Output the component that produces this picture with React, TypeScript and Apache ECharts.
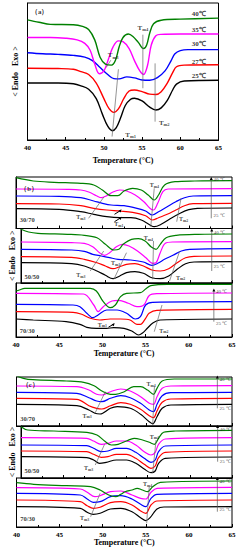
import React, { useEffect, useRef } from 'react';
import * as echarts from 'echarts';

type Pt = [number, number];

// ---------- Panel (a): DSC curves at 25,27,30,35,40 °C ----------
const A25: Pt[] = [[40,55],[44,55],[46,54.3],[47,52.3],[48,49],[49,40],[49.8,25],[50.5,13.3],[51.1,9],[51.6,11.7],[52.2,21.7],[52.8,33.3],[53.5,39.3],[54,40.3],[55,37.7],[56,31.7],[56.8,29],[57.5,31],[58.3,38.3],[59,48.3],[59.5,54],[60.5,57],[65,57.7]];
const A27: Pt[] = [[40,69.3],[44,69],[46,68.3],[47,66],[48,63.3],[49,55],[50,40],[50.7,30],[51.3,26.7],[51.9,30],[52.6,40],[53.3,47.3],[54,48.3],[55,46.7],[56,44.3],[56.8,44],[57.5,46.7],[58.3,55],[59,65],[59.5,70.7],[60.5,72.3],[65,72.7]];
const A30: Pt[] = [[40,84.3],[42,83.3],[44,82.7],[46,81.7],[47.5,80],[48.5,76.7],[49.5,70],[50.5,63.3],[51.3,59.3],[52,59],[53,61],[54,60],[55,58],[56,57.7],[57,60.3],[58,66.7],[58.8,76.7],[59.3,83.3],[60,86.3],[61,87.3],[65,87.3]];
const A35: Pt[] = [[40,99],[43,99],[45,98.3],[46.5,96.7],[47.5,93.3],[48.2,86.7],[48.8,73.3],[49.4,64],[50,66.7],[50.6,78.3],[51.2,90],[51.9,95.7],[52.5,95],[53.3,88.3],[54,76.7],[54.7,66.7],[55.2,63.3],[55.7,71.7],[56.2,91.7],[56.8,100.7],[57.5,102],[60,102.3],[65,102.3]];
const A40: Pt[] = [[40,116],[41.5,113.7],[43,111.7],[46,111.3],[47.2,109.7],[48,106.7],[48.8,96.7],[49.5,80],[50.2,73.3],[51,72.3],[51.5,76.7],[52,90],[52.5,99],[53.2,102.3],[53.8,100],[54.5,94.3],[55.2,88.3],[55.6,91.7],[56,103.3],[56.5,112.3],[57.5,115.7],[60,116.7],[65,117.7]];
const A_GUIDES: Pt[][] = [[[51.07,3.3],[51.9,68.3]],[[56.7,74],[56.7,17.7]],[[55.1,101.7],[55.1,50]],[[50.9,77],[50.3,70]]];
const A_TM: [number, number, string][] = [[53.5,5,'m1'],[57.9,16.7,'m2'],[51.2,81.7,'m3'],[55.1,108,'m4']];
const A_TEMPS: [number, number, string][] = [[62.4,121.7,'40℃'],[62.4,106.7,'35℃'],[62.4,92.7,'30℃'],[62.4,75,'27℃'],[62.4,61.7,'25℃']];

// ---------- Panel (b) ----------
const B1_40: Pt[] = [[40,50.8],[42,47.5],[44.4,46.2],[47.5,45.2],[49,43.5],[50,38.5],[51,32.8],[51.8,32.8],[52.5,37.5],[53.5,40.2],[54.5,38.5],[55.3,33.5],[56,28.5],[56.5,33.5],[57.2,43.5],[58.4,46.8],[60.7,47.5],[65,47.8]];
const B1_35: Pt[] = [[40,39.5],[46,39.2],[47.5,38.5],[48.5,36.2],[49.3,32.8],[49.9,30.8],[50.5,32.8],[51.3,36.8],[52,38.5],[52.8,37.5],[53.8,33.5],[54.8,26.8],[55.5,20.2],[55.9,18.5],[56.4,25.2],[57,36.8],[57.6,39.5],[65,39.8]];
const B1_30: Pt[] = [[40,32.5],[45,32.2],[47.5,30.8],[49,27.5],[50,25.2],[51,23.5],[52.5,22.8],[54,20.2],[55,17.5],[55.8,13.5],[56.5,16.8],[57.5,21.8],[58.5,26.8],[59.5,30.8],[60.5,32.5],[65,32.8]];
const B1_27: Pt[] = [[40,24.8],[45,24.5],[47.5,22.8],[49,20.2],[50.5,18.5],[52,17.5],[53.5,16.2],[55,12.8],[55.8,8.5],[56.5,10.8],[57.5,14.2],[58.5,18.5],[59.5,22.8],[60.5,24.8],[65,25.2]];
const B1_25: Pt[] = [[40,19.8],[45,19.2],[47.5,16.8],[49,14.2],[50.5,11.8],[52,10.8],[53.3,10.8],[54.5,8.5],[55.5,3.5],[56,1.8],[56.8,4.2],[57.8,9.5],[59,15.2],[60,18.8],[61,20.2],[65,20.5]];
const B2_40: Pt[] = [[40,53.7],[40.9,51],[42,49.7],[45.5,48.7],[47.5,47.7],[49,45.3],[50,38.7],[51,33],[51.6,33.7],[52.1,38.7],[53.1,43.7],[53.9,44.3],[54.7,42],[55.4,36.3],[56,33.7],[56.5,38.7],[57.2,45.3],[58.4,47.7],[61,48.7],[65,49]];
const B2_35: Pt[] = [[40,41],[46,40.3],[47.5,39.7],[48.5,36.3],[49.3,30.3],[49.9,27.7],[50.5,30.3],[51.3,36.3],[52,38.7],[52.8,37],[53.8,32],[54.8,25.3],[55.6,19.7],[56,20.3],[56.5,30.3],[57.1,39.7],[58,41],[65,41.3]];
const B2_30: Pt[] = [[40,33.7],[46,33],[47.5,31.7],[48.5,28.7],[49.5,27],[50.5,25.3],[51.5,23.7],[53,23],[54.5,21],[55.5,17.7],[56.2,19.7],[57,23.7],[58,27.7],[59,32],[60,33.7],[65,34.3]];
const B2_27: Pt[] = [[40,26.3],[46,25.7],[47.5,23.7],[49,20.3],[50,17],[50.9,14.3],[51.7,16.3],[52.5,18.7],[53.5,19.3],[54.5,17],[55.5,13],[56.5,12],[57.5,14.3],[58.5,20.3],[59.5,25.3],[60.5,26.7],[65,27]];
const B2_25: Pt[] = [[40,20.3],[46,19.3],[47.5,17],[49,12],[50,7.7],[50.9,4.3],[51.7,7],[52.5,10.3],[53.5,11.3],[54.5,9.7],[55.5,5.3],[56.5,4.3],[57.5,7],[58.5,13.7],[59.5,19.3],[60.5,21],[65,21.3]];
const B3_40: Pt[] = [[40,46],[40.4,47],[41,48.7],[48.6,48.7],[49.3,46],[50.1,35.3],[50.9,29.3],[51.5,32],[52.1,40.3],[52.8,43.7],[54.4,44.3],[55,48],[55.6,51.3],[57.5,52.7],[65,52.7]];
const B3_35: Pt[] = [[40,43.7],[47.8,43],[49,32],[49.5,25.3],[50.1,30.3],[51.1,36],[51.9,36.7],[53,33.7],[54,30.3],[54.8,32],[55.4,41.3],[56.3,43.3],[65,44]];
const B3_30: Pt[] = [[40,32.7],[46.6,32],[47.4,30.3],[48.2,23.7],[48.9,19.3],[49.5,22],[50.5,27],[51.7,27],[52.8,23.7],[53.8,18],[54.4,20.3],[55,32],[55.8,34.7],[65,35.3]];
const B3_27: Pt[] = [[40,25.3],[46.6,24.7],[47.6,22.7],[48.6,18.7],[49.7,17],[50.9,18],[52.1,18],[53.2,17],[54,12.7],[54.4,12.7],[55,18.7],[55.4,23.7],[56.3,26.7],[65,27.7]];
const B3_25: Pt[] = [[40,18],[42,17],[45.8,15.3],[47.4,12.7],[48.2,9.7],[49.3,8.7],[50.5,8.7],[51.3,9.3],[52.5,8.7],[53.4,6],[54.2,2],[54.6,3.7],[55.2,8.7],[55.8,13.7],[56.7,17],[65,18]];

// ---------- Panel (c) ----------
const C1_40: Pt[] = [[40,50.3],[40.8,47.7],[41.9,46.3],[45.8,45],[47.8,43.7],[49,40.3],[49.9,35],[50.9,31.7],[51.5,31.7],[52.5,34.3],[53.6,39.3],[54.4,39.3],[55.2,36],[55.9,31.7],[56.3,37.7],[56.9,45],[58.3,47],[65,47]];
const C1_35: Pt[] = [[40,40],[47,39.3],[48.4,36],[49.3,31.7],[49.9,31],[50.9,34.3],[52.1,37],[53.2,35],[54.4,29.3],[55.4,22.7],[55.9,21.7],[56.3,29.3],[56.9,37.7],[57.9,40],[65,40.3]];
const C1_30: Pt[] = [[40,33.7],[47,32.7],[48.4,28.3],[49.3,25],[49.9,24.3],[50.9,27.7],[52.1,30.3],[53.2,28.3],[54.4,22.7],[55.4,16],[55.9,14.3],[56.3,21.7],[56.9,30.3],[57.9,33.3],[65,33.7]];
const C1_27: Pt[] = [[40,27.7],[47,26.7],[48.4,20.3],[49.3,17.7],[49.9,17],[50.9,20.3],[52.1,23.3],[53.2,21.7],[54.4,16.7],[55.4,10.3],[55.9,8.3],[56.3,15],[56.9,23.7],[57.9,27],[65,27.7]];
const C1_25: Pt[] = [[40,21.7],[47,20.3],[48.4,16],[49.1,12.7],[49.7,12],[50.9,17.7],[51.7,19.3],[53.2,17.7],[54.4,11.7],[55.4,4.3],[55.8,2.3],[56.3,9.3],[56.9,17.7],[57.9,21],[65,21.7]];
const C2_40: Pt[] = [[40,51.3],[40.8,48],[43.9,47],[47.8,45.7],[49,43],[49.9,37],[50.7,33],[51.5,33.7],[52.5,37],[53.4,39.7],[54.4,38],[55.2,35.7],[55.8,33.7],[56.3,39.7],[56.9,45.7],[58.3,47],[65,47.7]];
const C2_35: Pt[] = [[40,40.3],[47.8,39.7],[48.6,37],[49.5,33.7],[50.3,34.7],[51.3,37],[52.5,37],[53.6,33],[54.6,26.3],[55.4,23],[55.9,25.7],[56.3,33.7],[57.1,39],[65,40.3]];
const C2_30: Pt[] = [[40,33],[47.8,32.3],[48.6,29.7],[49.5,26.3],[50.3,27],[51.3,29.7],[52.5,29.7],[53.6,25.7],[54.6,19.7],[55.4,15.7],[55.9,18],[56.3,26.3],[57.1,32],[65,33]];
const C2_27: Pt[] = [[40,27],[47.8,26.3],[48.6,23.7],[49.5,20.7],[50.3,21.3],[51.3,23.7],[52.5,23.7],[53.6,19.7],[54.6,13.7],[55.4,9.7],[55.9,12],[56.3,20.3],[57.1,25.7],[65,27]];
const C2_25: Pt[] = [[40,21.3],[47.8,20.3],[48.6,18],[49.3,14.7],[50.1,15.7],[51.3,18],[52.5,18],[53.6,14.7],[54.6,9],[55.4,5.3],[55.9,7],[56.3,14.7],[57.1,19.7],[65,21]];
const C3_40: Pt[] = [[40,44.3],[42,42.7],[45.8,41.3],[48.6,40.3],[49.7,37],[50.7,32],[51.5,30.3],[52.1,32.7],[52.6,35.3],[53.4,37],[54,38.7],[54.6,37],[55.2,35.3],[55.8,40.3],[56.7,44.7],[65,46]];
const C3_35: Pt[] = [[40,39.3],[47.4,38],[48.2,34.7],[49.1,30.3],[49.7,31.3],[50.9,35.3],[52.1,36],[53.4,32],[54.4,28.7],[55,28],[55.6,34.7],[56.3,38.7],[65,39.7]];
const C3_30: Pt[] = [[40,33.7],[47.4,32],[48.2,28],[48.9,24.7],[49.7,25.3],[50.9,30.3],[52.1,31.3],[53.4,28],[54.4,22.7],[55,20.3],[55.6,28.7],[56.3,32.7],[65,33.7]];
const C3_27: Pt[] = [[40,27],[47.4,25.3],[48.2,21.3],[48.9,18.7],[49.7,19.7],[50.9,24.3],[52.1,25.3],[53.4,22],[54.4,16],[55,13.7],[55.6,22],[56.3,26],[65,27]];
const C3_25: Pt[] = [[40,20.3],[47.4,18.7],[48.2,14.7],[48.9,12.7],[49.7,13.7],[50.9,18],[52.1,18.7],[53.4,15.3],[54.4,9.3],[55,6.3],[55.5,9.3],[56.3,18],[57.1,20],[65,20.3]];

// guide lines, Tm labels, arrows and texts for the sub panels
const B1_GUIDES: Pt[][] = [[[48.4,10.2],[50.2,31.8]],[[56,40.2],[55.6,1.8]],[[58.6,6.8],[59.1,30.2]]];
const B1_TM: [number, number, string][] = [[47.5,11.2,'m3'],[51.9,4.2,'m1'],[56,43.5,'m4'],[59.4,9.2,'m2']];
const B1_POINTERS: Pt[][] = [[[51.4,6.8],[52.1,10.6]],[[51.4,14.2],[52.1,18]]];
const B2_GUIDES: Pt[][] = [[[48.2,12],[49.8,32]],[[51,3.7],[52.5,30.3]],[[55.7,42],[55.6,3.7]],[[57.6,2],[58.8,32]]];
const B2_TM: [number, number, string][] = [[47.1,7.7,'m3'],[51.2,19.7,'m1'],[55.1,44.8,'m4'],[58.9,5.3,'m2']];
const B3_GUIDES: Pt[][] = [[[56,5.3],[56.9,32]]];
const B3_TM: [number, number, string][] = [[50,12.2,'m1'],[57.1,6.3,'m2']];
const B3_POINTERS: Pt[][] = [[[50.7,9.8],[51.3,12.8]]];
const C1_GUIDES: Pt[][] = [[[49.1,12.7],[50.3,34.3]],[[56,39.3],[55.8,1]]];
const C1_TM: [number, number, string][] = [[48.2,10.3,'m3'],[55.6,41.9,'m4']];
const C2_GUIDES: Pt[][] = [[[48.8,13],[49.9,33.7]],[[56,38],[55.6,4.7]]];
const C2_TM: [number, number, string][] = [[48,9.7,'m3'],[55.8,41.5,'m4']];
const C3_GUIDES: Pt[][] = [[[48.6,10.3],[49.7,33.7]],[[55.4,40.3],[55.1,3.7]]];
const C3_TM: [number, number, string][] = [[47.9,8.7,'m3'],[55.2,42.7,'m4']];

const RATIOS = ['30/70', '50/50', '70/30'];
const PANEL_TAGS = ['（a）', '（b）', '（c）'];
const RANGE_TEXT = ['40 ℃', '25 ℃'];
const X_NAME = 'Temperature (°C)';
const Y_NAME = '< Endo   Exo >';

const COLORS = ['#000000', '#ff0000', '#0000ff', '#ff00ff', '#008000'];
const FONT = '"Liberation Serif", "Times New Roman", serif';

interface Panel {
  left: number; top: number; width: number; height: number; ymax: number;
  curves: Pt[][]; guides: Pt[][]; tm: [number, number, string][]; pointers: Pt[][];
  showX: boolean; xGap: number; yName: boolean; yGap: number;
  texts: { x: number; y: number; t: string; size: number; bold: boolean }[];
  arrow?: { x: number; y0: number; y1: number; top: number; bot: number };
  tmSize: number; lw: number;
}

function panels(): Panel[] {
  const bl = 16, bw = 216;
  return [
    { left: 27.5, top: 3, width: 191, height: 137, ymax: 132.3, curves: [A25, A27, A30, A35, A40], guides: A_GUIDES, tm: A_TM, pointers: [], showX: true, xGap: 16, yName: true, yGap: 8, tmSize: 7, lw: 1.4,
      texts: [{ x: 41.6, y: 123.3, t: PANEL_TAGS[0], size: 7, bold: true }, ...A_TEMPS.map(([x, y, t]) => ({ x, y, t, size: 7, bold: true }))] },
    { left: bl, top: 177, width: bw, height: 51.5, ymax: 51.5, curves: [B1_25, B1_27, B1_30, B1_35, B1_40], guides: B1_GUIDES, tm: B1_TM, pointers: B1_POINTERS, showX: false, xGap: 0, yName: false, yGap: 0, tmSize: 6, lw: 1.2,
      texts: [{ x: 41.5, y: 40.2, t: PANEL_TAGS[1], size: 6.5, bold: true }, { x: 41.3, y: 9.5, t: RATIOS[0], size: 6.5, bold: true }],
      arrow: { x: 62.6, y0: 10.2, y1: 50, top: 48.6, bot: 13.5 } },
    { left: bl, top: 228.5, width: bw, height: 54.5, ymax: 54.5, curves: [B2_25, B2_27, B2_30, B2_35, B2_40], guides: B2_GUIDES, tm: B2_TM, pointers: [], showX: false, xGap: 0, yName: true, yGap: 5, tmSize: 6, lw: 1.2,
      texts: [{ x: 41.3, y: 7, t: RATIOS[1], size: 6.5, bold: true }],
      arrow: { x: 62.6, y0: 12, y1: 53, top: 50.5, bot: 16.5 } },
    { left: bl, top: 283, width: bw, height: 54, ymax: 54, curves: [B3_25, B3_27, B3_30, B3_35, B3_40], guides: B3_GUIDES, tm: B3_TM, pointers: B3_POINTERS, showX: true, xGap: 12.5, yName: false, yGap: 0, tmSize: 6, lw: 1.2,
      texts: [{ x: 41.3, y: 6.3, t: RATIOS[2], size: 6.5, bold: true }],
      arrow: { x: 62.9, y0: 15.3, y1: 47, top: 46, bot: 13.7 } },
    { left: 16.5, top: 377, width: 215.5, height: 49, ymax: 49, curves: [C1_25, C1_27, C1_30, C1_35, C1_40], guides: C1_GUIDES, tm: C1_TM, pointers: [], showX: false, xGap: 0, yName: false, yGap: 0, tmSize: 6, lw: 1.2,
      texts: [{ x: 41.6, y: 41.7, t: PANEL_TAGS[2], size: 6.5, bold: true }, { x: 41.3, y: 7.7, t: RATIOS[0], size: 6.5, bold: true }],
      arrow: { x: 63.3, y0: 17.7, y1: 49, top: 47, bot: 17.7 } },
    { left: 16.5, top: 426, width: 215.5, height: 52, ymax: 52, curves: [C2_25, C2_27, C2_30, C2_35, C2_40], guides: C2_GUIDES, tm: C2_TM, pointers: [], showX: false, xGap: 0, yName: true, yGap: 5, tmSize: 6, lw: 1.2,
      texts: [{ x: 41.3, y: 8, t: RATIOS[1], size: 6.5, bold: true }],
      arrow: { x: 63.3, y0: 16.3, y1: 51.5, top: 48.7, bot: 17 } },
    { left: 16.5, top: 478, width: 215.5, height: 49, ymax: 49, curves: [C3_25, C3_27, C3_30, C3_35, C3_40], guides: C3_GUIDES, tm: C3_TM, pointers: [], showX: true, xGap: 11, yName: false, yGap: 0, tmSize: 6, lw: 1.2,
      texts: [{ x: 41.3, y: 8.7, t: RATIOS[2], size: 6.5, bold: true }],
      arrow: { x: 63.3, y0: 15.3, y1: 48.5, top: 46, bot: 18 } },
  ];
}

function buildOption() {
  const grid: any[] = [], xAxis: any[] = [], yAxis: any[] = [], series: any[] = [];
  panels().forEach((p, i) => {
    grid.push({ left: p.left, top: p.top, width: p.width, height: p.height, show: true, borderColor: '#000', borderWidth: 1, backgroundColor: 'transparent' });
    xAxis.push({
      gridIndex: i, type: 'value', min: 40, max: 65, interval: 5,
      axisLine: { show: true, onZero: false, lineStyle: { color: '#000', width: 1 } },
      axisTick: { show: true, inside: true, length: 3, lineStyle: { color: '#000', width: 1 } },
      minorTick: { show: true, splitNumber: 2, length: 2, lineStyle: { color: '#000', width: 1 } },
      splitLine: { show: false },
      axisLabel: { show: p.showX, fontFamily: FONT, fontWeight: 'bold', fontSize: 7, color: '#000', margin: 4 },
      name: p.showX ? X_NAME : '', nameLocation: 'middle', nameGap: p.xGap,
      nameTextStyle: { fontFamily: FONT, fontWeight: 'bold', fontSize: 8, color: '#000' },
    });
    yAxis.push({
      gridIndex: i, type: 'value', min: 0, max: p.ymax,
      axisLine: { show: true, onZero: false, lineStyle: { color: '#000', width: 1 } },
      axisTick: { show: false }, axisLabel: { show: false }, splitLine: { show: false },
      name: p.yName ? Y_NAME : '', nameLocation: 'middle', nameRotate: 90, nameGap: p.yGap,
      nameTextStyle: { fontFamily: FONT, fontWeight: 'bold', fontSize: 8, color: '#000' },
    });
    p.curves.forEach((c, k) => series.push({
      type: 'line', xAxisIndex: i, yAxisIndex: i, data: c, smooth: 0.35, symbol: 'none', showSymbol: false,
      lineStyle: { color: COLORS[k], width: p.lw }, itemStyle: { color: COLORS[k] }, silent: true, z: 3,
    }));
    p.guides.forEach((g) => series.push({
      type: 'line', xAxisIndex: i, yAxisIndex: i, data: g, symbol: 'none', silent: true,
      lineStyle: { color: '#666', width: 0.7 }, z: 4,
    }));
    p.pointers.forEach((g) => series.push({
      type: 'line', xAxisIndex: i, yAxisIndex: i, silent: true, z: 4,
      data: [{ value: g[0], symbol: 'none' }, { value: g[1], symbol: 'triangle', symbolSize: [3, 3], symbolRotate: -40 }],
      lineStyle: { color: '#000', width: 1 }, itemStyle: { color: '#000' },
    }));
    if (p.arrow) {
      const a = p.arrow;
      series.push({
        type: 'line', xAxisIndex: i, yAxisIndex: i, silent: true, z: 4,
        data: [{ value: [a.x, a.y0], symbol: 'none' }, { value: [a.x, a.y1], symbol: 'triangle', symbolSize: [3, 3] }],
        lineStyle: { color: '#555', width: 0.7 }, itemStyle: { color: '#000' },
      });
      series.push({
        type: 'scatter', xAxisIndex: i, yAxisIndex: i, symbolSize: 0, silent: true, z: 5,
        data: [[a.x + 0.25, a.top, RANGE_TEXT[0]], [a.x + 0.25, a.bot, RANGE_TEXT[1]]].map((d) => ({
          value: [d[0], d[1]],
          label: { show: true, position: 'right', distance: 0, formatter: d[2] as string, fontFamily: FONT, fontSize: 5, color: '#222' },
        })),
      });
    }
    series.push({
      type: 'scatter', xAxisIndex: i, yAxisIndex: i, symbolSize: 0, silent: true, z: 5,
      data: p.tm.map(([x, y, s]) => ({
        value: [x, y],
        label: {
          show: true, position: 'inside', formatter: `{t|T}{s|${s}}`,
          rich: {
            t: { fontFamily: FONT, fontWeight: 'bold', fontSize: p.tmSize, color: '#111' },
            s: { fontFamily: FONT, fontWeight: 'bold', fontSize: p.tmSize * 0.65, color: '#111', verticalAlign: 'bottom', padding: [p.tmSize * 0.5, 0, 0, 0] },
          },
        },
      })),
    });
    series.push({
      type: 'scatter', xAxisIndex: i, yAxisIndex: i, symbolSize: 0, silent: true, z: 5,
      data: p.texts.map((t) => ({
        value: [t.x, t.y],
        label: { show: true, position: 'inside', formatter: t.t, fontFamily: FONT, fontWeight: t.bold ? 'bold' : 'normal', fontSize: t.size, color: '#000' },
      })),
    });
  });
  return { animation: false, backgroundColor: '#fff', grid, xAxis, yAxis, series };
}

export default function App() {
  const ref = useRef<HTMLDivElement>(null);
  useEffect(() => {
    document.body.style.margin = '0';
    const chart = echarts.init(ref.current!, null, { renderer: 'svg' });
    chart.setOption(buildOption());
    return () => chart.dispose();
  }, []);
  return <div ref={ref} style={{ position: 'absolute', left: 0, top: 0, width: 241, height: 550 }} />;
}
